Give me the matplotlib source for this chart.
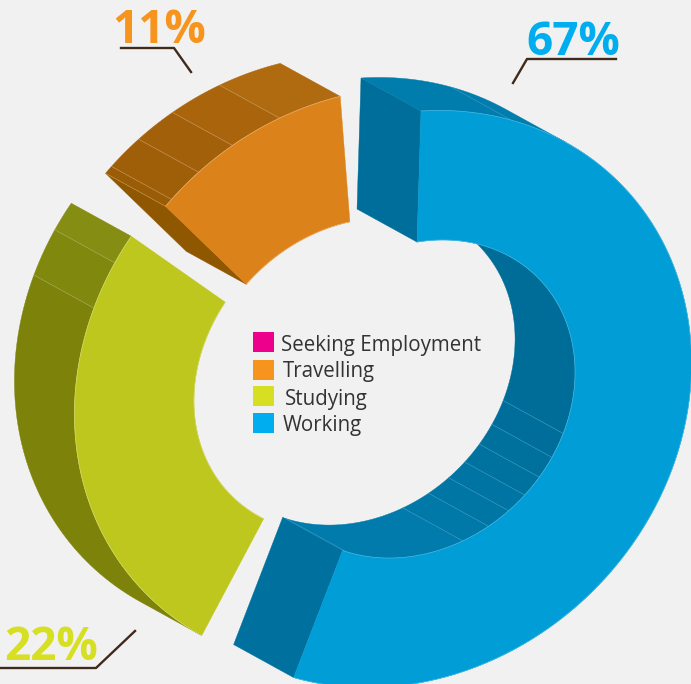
import numpy as np
import matplotlib
matplotlib.use('Agg')
import matplotlib.pyplot as plt
from matplotlib.patches import Polygon

# legend
legend_names = ['Seeking Employment', 'Travelling', 'Studying', 'Working']
legend_colors = ['#EC008C', '#F7941D', '#D7DF23', '#00AEEF']

# shares printed on the chart
share_working = 67
share_studying = 22
share_travelling = 11

# arc ends of each piece as drawn, degrees round the tilted ellipse
working_outer = [-45.0, 153.7]
working_inner = [-49.5, 157.6]
studying_outer = [165.4, 258.0]
studying_inner = [164.3, 256.7]
travelling_outer = [-95.4, -55.7]
travelling_inner = [-94.5, -52.8]

# where the thin lines cross the side walls, degrees
working_inner_marks = [62.4, 71.4, 79.3, 87.0, 94.5, 103.0, 113.0]
working_outer_marks = [-26.5]
studying_marks = [242.6, 252.1]
travelling_marks = [-93.7, -86.5, -78.4, -68.1]

BG = '#F1F1F1'
DEPTH = np.array([-60.0, -33.0])
OUT_A, OUT_B = 306.0, 270.0
IN_A, IN_B = 172.0, 145.0
LINE = '#3F2A1B'

fig = plt.figure(figsize=(6.91, 6.84), dpi=100, facecolor=BG)
ax = fig.add_axes([0, 0, 1, 1])
ax.set_xlim(0, 691)
ax.set_ylim(684, 0)
ax.axis('off')


#points on an ellipse with its long axis running lower left to upper right
def rim(c, a, b, ang):
    t = np.radians(ang)
    u = a * np.cos(t)
    v = b * np.sin(t)
    x = c[0] + (u + v) / np.sqrt(2)
    y = c[1] + (v - u) / np.sqrt(2)
    return np.column_stack([x, y])


#angle where the side wall of a rim turns out of sight
def turn_angle(a, b):
    du = (DEPTH[0] - DEPTH[1]) / np.sqrt(2)
    dv = (DEPTH[0] + DEPTH[1]) / np.sqrt(2)
    return np.degrees(np.arctan(-(du / dv) * (b / a)))


def fill(pts, color, z=1):
    ax.add_patch(Polygon(pts, closed=True, fc=color, ec=color, lw=0.3, zorder=z))


#band of the extruded wall between two angles
def wall(c, a, b, a0, a1, color):
    front = rim(c, a, b, np.linspace(a0, a1, 60))
    fill(np.vstack([front, front[::-1] + DEPTH]), color)


#flat wall at the cut end of a piece
def end_wall(c_out, c_in, ang_out, ang_in, color):
    p = rim(c_out, OUT_A, OUT_B, np.array([ang_out]))[0]
    q = rim(c_in, IN_A, IN_B, np.array([ang_in]))[0]
    fill([p, q, q + DEPTH, p + DEPTH], color)


#thin light line across a wall
def mark(c, a, b, ang, color):
    p = rim(c, a, b, np.array([ang]))[0]
    ax.plot([p[0], p[0] + DEPTH[0]], [p[1], p[1] + DEPTH[1]], color=color, lw=0.4, zorder=2)


def face(c_out, c_in, outer, inner, color, edge):
    o = rim(c_out, OUT_A, OUT_B, np.linspace(outer[0], outer[1], 200))
    i = rim(c_in, IN_A, IN_B, np.linspace(inner[1], inner[0], 120))
    pts = np.vstack([o, i])
    fill(pts, color, z=3)
    ax.plot(o[:, 0], o[:, 1], color=edge, lw=0.5, zorder=4)
    ax.plot(i[:, 0], i[:, 1], color=edge, lw=0.5, zorder=4)


# working
c_o = (403, 399)
c_i = (416, 399)
sil_out = turn_angle(OUT_A, OUT_B)
sil_in = turn_angle(IN_A, IN_B)
end_wall(c_o, c_i, working_outer[0], working_inner[0], '#006E9A')
end_wall(c_o, c_i, working_outer[1], working_inner[1], '#00709E')
wall(c_o, OUT_A, OUT_B, working_outer[0], sil_out, '#007DAD')
for m in working_outer_marks:
    mark(c_o, OUT_A, OUT_B, m, '#3C9CC4')
edges = [sil_in] + working_inner_marks + [working_inner[1]]
shades = ['#006D99', '#006E9B', '#00709D', '#00729F', '#0074A2', '#0076A5', '#0078A8', '#007BAC']
for k in range(len(shades)):
    wall(c_i, IN_A, IN_B, edges[k], edges[k + 1], shades[k])
for m in working_inner_marks:
    mark(c_i, IN_A, IN_B, m, '#3C9CC4')
mark(c_i, IN_A, IN_B, working_inner[1] - 1.5, '#3C9CC4')
face(c_o, c_i, working_outer, working_inner, '#009DD6', '#45B4E0')

# travelling
c_o = (376, 376)
c_i = (358, 377)
end_wall(c_o, c_i, travelling_outer[0], travelling_inner[0], '#8F5700')
edges = [travelling_outer[0]] + travelling_marks + [travelling_outer[1]]
shades = ['#9A5C05', '#9F5E08', '#A3600A', '#AA650C', '#B06A10']
for k in range(len(shades)):
    wall(c_o, OUT_A, OUT_B, edges[k], edges[k + 1], shades[k])
for m in travelling_marks:
    mark(c_o, OUT_A, OUT_B, m, '#C99A5C')
mark(c_o, OUT_A, OUT_B, travelling_outer[0], '#C99A5C')
face(c_o, c_i, travelling_outer, travelling_inner, '#DB831A', '#E9AE6A')

# studying
c_o = (363, 378)
c_i = (353, 374)
edges = [sil_out + 180] + studying_marks + [studying_outer[1]]
shades = ['#7D820B', '#80880E', '#858D12']
for k in range(len(shades)):
    wall(c_o, OUT_A, OUT_B, edges[k], edges[k + 1], shades[k])
for m in studying_marks:
    mark(c_o, OUT_A, OUT_B, m, '#A8AE5A')
face(c_o, c_i, studying_outer, studying_inner, '#BEC71E', '#D3D96A')

# legend
box_y = [332, 360, 386, 413]
text_x = [281, 283, 285, 283]
text_y = [345, 371, 399, 425]
for k in range(len(legend_names)):
    ax.add_patch(plt.Rectangle((253, box_y[k]), 21, 20, fc=legend_colors[k], ec='none', zorder=5))
    ax.text(text_x[k], text_y[k], legend_names[k], fontsize=14.8, color='#333333',
            family='Open Sans', va='center', ha='left', zorder=5)

# percent labels and their leader lines
ax.text(573, 55, '%d%%' % share_working, fontsize=33, fontweight='bold', color=legend_colors[3],
        family='Open Sans', ha='center', va='baseline', zorder=5)
ax.text(159, 43, '%d%%' % share_travelling, fontsize=33, fontweight='bold', color=legend_colors[1],
        family='Open Sans', ha='center', va='baseline', zorder=5)
ax.text(51, 660, '%d%%' % share_studying, fontsize=33, fontweight='bold', color=legend_colors[2],
        family='Open Sans', ha='center', va='baseline', zorder=5)
ax.plot([513, 527, 616], [83, 59, 59], color=LINE, lw=1.7, zorder=5)
ax.plot([121, 174, 191], [48, 48, 72], color=LINE, lw=1.7, zorder=5)
ax.plot([0, 96, 135], [668, 668, 631], color=LINE, lw=1.7, zorder=5)

fig.savefig('out.png', dpi=100, facecolor=BG)
